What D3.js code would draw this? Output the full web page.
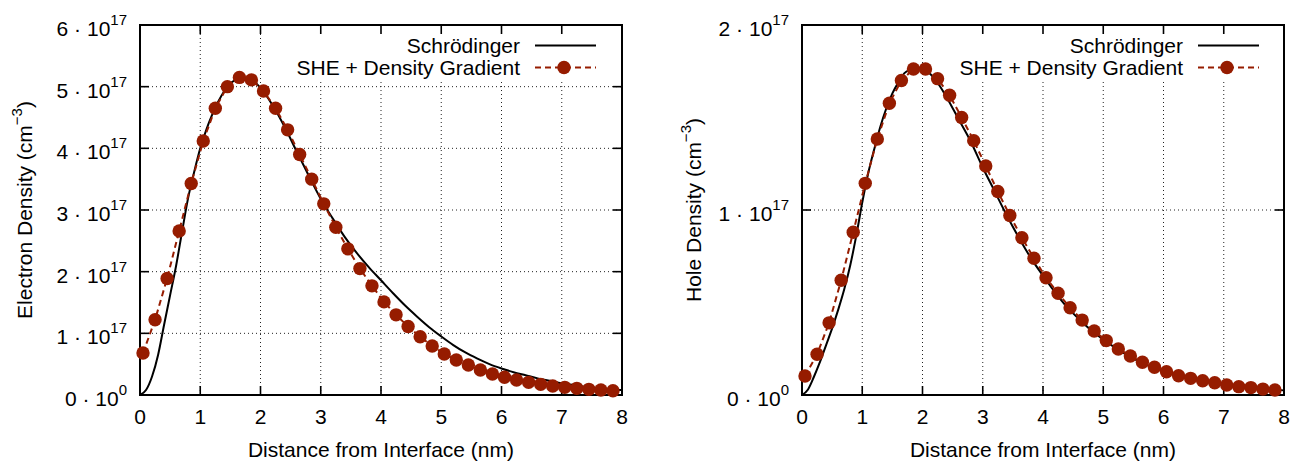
<!DOCTYPE html>
<html>
<head>
<meta charset="utf-8">
<script src="https://cdn.jsdelivr.net/npm/d3@7/dist/d3.min.js"></script>
<style>
  body { margin: 0; background: #fff; }
  svg text { font-family: "Liberation Sans", Arial, Helvetica, sans-serif; fill: #000; }
</style>
</head>
<body>
<svg id="chart" width="1301" height="461"></svg>
<script>
////////////////////////////////////////////////////////////////////////////////////////
// data (densities in units of 1e17 cm^-3, distance in nm)
////////////////////////////////////////////////////////////////////////////////////////
var dgDistance = [0.05, 0.25, 0.45, 0.65, 0.85, 1.05, 1.25, 1.45, 1.65, 1.85,
	2.05, 2.25, 2.45, 2.65, 2.85, 3.05, 3.25, 3.45, 3.65, 3.85,
	4.05, 4.25, 4.45, 4.65, 4.85, 5.05, 5.25, 5.45, 5.65, 5.85,
	6.05, 6.25, 6.45, 6.65, 6.85, 7.05, 7.25, 7.45, 7.65, 7.85];

var electronDG = [0.68, 1.22, 1.89, 2.66, 3.43, 4.12, 4.65, 5.00, 5.15, 5.11,
	4.93, 4.65, 4.30, 3.90, 3.50, 3.10, 2.72, 2.37, 2.05, 1.77,
	1.51, 1.30, 1.11, 0.945, 0.795, 0.665, 0.567, 0.486, 0.405, 0.34,
	0.287, 0.243, 0.205, 0.173, 0.146, 0.124, 0.108, 0.092, 0.081, 0.07];

var holeDG = [0.103, 0.22, 0.39, 0.62, 0.88, 1.144, 1.384, 1.577, 1.70, 1.762,
	1.762, 1.71, 1.62, 1.50, 1.375, 1.238, 1.10, 0.97, 0.85, 0.739,
	0.634, 0.55, 0.472, 0.405, 0.346, 0.294, 0.249, 0.211, 0.177, 0.15,
	0.126, 0.104, 0.09, 0.077, 0.066, 0.054, 0.045, 0.04, 0.032, 0.027];

var schrDistance = [0, 0.1, 0.2, 0.3, 0.4, 0.5, 0.6, 0.7, 0.8, 0.9,
	1.0, 1.1, 1.2, 1.3, 1.4, 1.5, 1.6, 1.7, 1.8, 1.9,
	2.0, 2.2, 2.4, 2.6, 2.8, 3.0, 3.2, 3.4, 3.6, 3.8,
	4.0, 4.2, 4.4, 4.6, 4.8, 5.0, 5.2, 5.4, 5.6, 5.8,
	6.0, 6.2, 6.4, 6.6, 6.8, 7.0, 7.2, 7.4, 7.6, 7.8, 8.0];

var electronSchr = [0, 0.08, 0.3, 0.65, 1.14, 1.62, 2.1, 2.66, 3.2, 3.62,
	4.0, 4.3, 4.55, 4.76, 4.93, 5.05, 5.12, 5.15, 5.13, 5.08,
	4.98, 4.7, 4.35, 3.95, 3.56, 3.18, 2.86, 2.56, 2.3, 2.07,
	1.86, 1.65, 1.45, 1.27, 1.10, 0.95, 0.81, 0.69, 0.59, 0.50,
	0.43, 0.37, 0.32, 0.27, 0.23, 0.19, 0.16, 0.13, 0.11, 0.09, 0.08];

var holeSchr = [0, 0.03, 0.1, 0.18, 0.27, 0.36, 0.46, 0.57, 0.7, 0.86,
	1.04, 1.2, 1.33, 1.45, 1.55, 1.63, 1.69, 1.74, 1.76, 1.77,
	1.765, 1.71, 1.61, 1.49, 1.37, 1.23, 1.10, 0.97, 0.85, 0.74,
	0.645, 0.555, 0.475, 0.41, 0.35, 0.30, 0.255, 0.215, 0.18, 0.152,
	0.128, 0.108, 0.09, 0.077, 0.065, 0.055, 0.046, 0.039, 0.033, 0.029, 0.025];

var xTickValues = [0, 1, 2, 3, 4, 5, 6, 7, 8];

var electronYTicks = [0, 1, 2, 3, 4, 5, 6];
var electronYMant  = ["0", "1", "2", "3", "4", "5", "6"];
var electronYExp   = ["0", "17", "17", "17", "17", "17", "17"];

var holeYTicks = [0, 1, 2];
var holeYMant  = ["0", "1", "2"];
var holeYExp   = ["0", "17", "17"];

var seriesNames = ["Schrödinger", "SHE + Density Gradient"];

var DG_COLOR = "#961c00";

////////////////////////////////////////////////////////////////////////////////////////
// one panel
////////////////////////////////////////////////////////////////////////////////////////
function drawPanel(cfg) {
	var svg = d3.select("#chart");
	var top = 25, bottom = 395, width = 482;
	var g = svg.append("g");

	var x = d3.scaleLinear().domain([0, 8]).range([cfg.left, cfg.left + width]);
	var y = d3.scaleLinear().domain([0, cfg.yMax]).range([bottom, top]);

	// grid
	g.selectAll(".vgrid")
		.data(xTickValues.slice(1, -1))
		.join("line")
		.attr("x1", function (d) { return x(d); })
		.attr("x2", function (d) { return x(d); })
		.attr("y1", bottom).attr("y2", top)
		.attr("stroke", "#222").attr("stroke-width", 1)
		.attr("stroke-dasharray", "1,3");

	g.selectAll(".hgrid")
		.data(cfg.yTicks.slice(1, -1))
		.join("line")
		.attr("x1", x(0)).attr("x2", x(8))
		.attr("y1", function (d) { return y(d); })
		.attr("y2", function (d) { return y(d); })
		.attr("stroke", "#222").attr("stroke-width", 1)
		.attr("stroke-dasharray", "1,3");

	// key background hides the grid
	g.append("rect")
		.attr("x", cfg.keyLeft).attr("y", top + 1)
		.attr("width", x(8) - cfg.keyLeft - 2).attr("height", 53)
		.attr("fill", "#fff");

	// frame
	g.append("rect")
		.attr("x", x(0)).attr("y", top)
		.attr("width", width).attr("height", bottom - top)
		.attr("fill", "none").attr("stroke", "#000").attr("stroke-width", 2);

	// inward ticks on all four sides
	var tl = 9;
	xTickValues.forEach(function (d) {
		g.append("line").attr("x1", x(d)).attr("x2", x(d))
			.attr("y1", bottom).attr("y2", bottom - tl)
			.attr("stroke", "#000").attr("stroke-width", 1.6);
		g.append("line").attr("x1", x(d)).attr("x2", x(d))
			.attr("y1", top).attr("y2", top + tl)
			.attr("stroke", "#000").attr("stroke-width", 1.6);
	});
	cfg.yTicks.forEach(function (d) {
		g.append("line").attr("x1", x(0)).attr("x2", x(0) + tl)
			.attr("y1", y(d)).attr("y2", y(d))
			.attr("stroke", "#000").attr("stroke-width", 1.6);
		g.append("line").attr("x1", x(8)).attr("x2", x(8) - tl)
			.attr("y1", y(d)).attr("y2", y(d))
			.attr("stroke", "#000").attr("stroke-width", 1.6);
	});

	// x tick labels
	g.selectAll(".xlab")
		.data(xTickValues)
		.join("text")
		.attr("x", function (d) { return x(d); })
		.attr("y", 424)
		.attr("text-anchor", "middle")
		.style("font-size", "21px")
		.text(function (d) { return d; });

	// y tick labels  "m · 10^e"
	cfg.yTicks.forEach(function (d, i) {
		var t = g.append("text")
			.attr("x", x(0) - 13)
			.attr("y", y(d) + 11)
			.attr("text-anchor", "end")
			.style("font-size", "21px");
		t.append("tspan").text(cfg.yMant[i] + " \u00B7 10");
		t.append("tspan").attr("dy", -11).style("font-size", "15px").text(cfg.yExp[i]);
	});

	// axis titles
	g.append("text")
		.attr("x", x(4)).attr("y", 457)
		.attr("text-anchor", "middle")
		.style("font-size", "21px")
		.text("Distance from Interface (nm)");

	var yt = g.append("text")
		.attr("transform", "translate(" + cfg.titleX + "," + ((top + bottom) / 2) + ") rotate(-90)")
		.attr("text-anchor", "middle")
		.style("font-size", "21px");
	yt.append("tspan").text(cfg.yTitle + " (cm");
	yt.append("tspan").attr("dy", -10).style("font-size", "15px").text("\u22123");
	yt.append("tspan").attr("dy", 10).text(")");

	// Schrödinger curve
	var schrPts = schrDistance.map(function (d, i) { return [d, cfg.schr[i]]; });
	g.append("path")
		.datum(schrPts)
		.attr("d", d3.line()
			.x(function (d) { return x(d[0]); })
			.y(function (d) { return y(d[1]); })
			.curve(d3.curveMonotoneX))
		.attr("fill", "none").attr("stroke", "#000").attr("stroke-width", 2);

	// SHE + DG
	var dgPts = dgDistance.map(function (d, i) { return [d, cfg.dg[i]]; });
	g.append("path")
		.datum(dgPts)
		.attr("d", d3.line()
			.x(function (d) { return x(d[0]); })
			.y(function (d) { return y(d[1]); }))
		.attr("fill", "none").attr("stroke", DG_COLOR).attr("stroke-width", 2)
		.attr("stroke-dasharray", "6,4");

	g.selectAll(".dot")
		.data(dgPts)
		.join("circle")
		.attr("cx", function (d) { return x(d[0]); })
		.attr("cy", function (d) { return y(d[1]); })
		.attr("r", 6.7)
		.attr("fill", DG_COLOR);

	// key
	var kx = cfg.keyText;
	g.append("text").attr("x", kx).attr("y", 53).attr("text-anchor", "end")
		.style("font-size", "21px").text(seriesNames[0]);
	g.append("text").attr("x", kx).attr("y", 75).attr("text-anchor", "end")
		.style("font-size", "21px").text(seriesNames[1]);
	g.append("line").attr("x1", kx + 15).attr("x2", kx + 76)
		.attr("y1", 45.5).attr("y2", 45.5)
		.attr("stroke", "#000").attr("stroke-width", 2);
	g.append("line").attr("x1", kx + 15).attr("x2", kx + 76)
		.attr("y1", 67.5).attr("y2", 67.5)
		.attr("stroke", DG_COLOR).attr("stroke-width", 2)
		.attr("stroke-dasharray", "6,4");
	g.append("circle").attr("cx", kx + 44).attr("cy", 67.5).attr("r", 6.7)
		.attr("fill", DG_COLOR);
}

drawPanel({
	left: 140, yMax: 6,
	yTicks: electronYTicks, yMant: electronYMant, yExp: electronYExp,
	yTitle: "Electron Density", titleX: 32,
	schr: electronSchr, dg: electronDG,
	keyLeft: 288, keyText: 520
});

drawPanel({
	left: 802, yMax: 2,
	yTicks: holeYTicks, yMant: holeYMant, yExp: holeYExp,
	yTitle: "Hole Density", titleX: 701,
	schr: holeSchr, dg: holeDG,
	keyLeft: 950, keyText: 1183
});
</script>
</body>
</html>
